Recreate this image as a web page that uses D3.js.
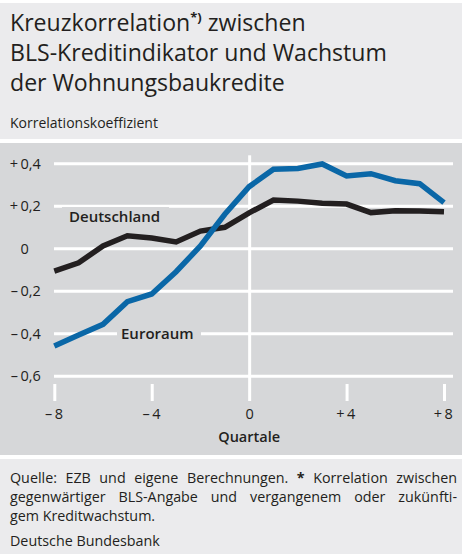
<!DOCTYPE html>
<html>
<head>
<meta charset="utf-8">
<script src="https://cdn.jsdelivr.net/npm/d3@7"></script>
<style>
  body { margin: 0; background: #fff; }
  svg text { font-family: "Open Sans", "Noto Sans", sans-serif; fill: #231f20; }
</style>
</head>
<body>
<svg id="chart" width="462" height="554"></svg>
<script>
// Quartale (Vorlauf/Nachlauf) und Korrelationskoeffizienten
var quarters = [-8, -7, -6, -5, -4, -3, -2, -1, 0, 1, 2, 3, 4, 5, 6, 7, 8];
var deutschland = [-0.107, -0.068, 0.011, 0.059, 0.048, 0.030, 0.081, 0.099, 0.167,
                   0.227, 0.222, 0.212, 0.208, 0.168, 0.177, 0.176, 0.172];
var euroraum = [-0.46, -0.408, -0.358, -0.251, -0.215, -0.110, 0.011, 0.16, 0.29,
                0.372, 0.376, 0.397, 0.340, 0.351, 0.318, 0.304, 0.215];
var yTicks = [0.4, 0.2, 0, -0.2, -0.4, -0.6];
var yTickSigns = ["+", "+", "", "\u2013", "\u2013", "\u2013"];
var yTickNums = ["0,4", "0,2", "0", "0,2", "0,4", "0,6"];
var xTicks = [-8, -4, 0, 4, 8];
var xTickSigns = ["\u2013", "\u2013", "", "+", "+"];
var xTickNums = ["8", "4", "0", "4", "8"];

var svg = d3.select("#chart");

// panels
svg.append("rect").attr("x", 0).attr("y", 3).attr("width", 462).attr("height", 136).attr("fill", "#ebebed");
svg.append("rect").attr("x", 0).attr("y", 143).attr("width", 462).attr("height", 312).attr("fill", "#d6d7d9");
svg.append("rect").attr("x", 0).attr("y", 459).attr("width", 462).attr("height", 95).attr("fill", "#ebebed");

// title
var title = ["Kreuzkorrelation", "BLS-Kreditindikator und Wachstum", "der Wohnungsbaukredite"];
title.forEach(function(t, i) {
  var txt = svg.append("text").attr("x", 10).attr("y", 31 + i * 30)
      .style("font-size", "23.1px").style("font-weight", 500).text(t);
  if (i == 0) {
    txt.append("tspan").attr("dy", -9).style("font-size", "13px").style("font-weight", "bold").text("*)");
    txt.append("tspan").attr("dy", 9).text(" zwischen");
  }
});
svg.append("text").attr("x", 10).attr("y", 128).style("font-size", "14px").text("Korrelationskoeffizient");

var x = d3.scaleLinear().domain([-8, 8]).range([54.3, 444]);
var y = d3.scaleLinear().domain([-0.6, 0.4]).range([375.8, 163.3]);

// gridlines
var grid = svg.append("g").attr("transform", "translate(54,0)")
    .call(d3.axisLeft(y).tickValues(yTicks).tickSize(-399).tickFormat(""));
grid.select(".domain").remove();
grid.selectAll("line").attr("stroke", "#fff").attr("stroke-width", 3);

// y labels
grid.selectAll(".tick").each(function(d, i) {
  var g = d3.select(this);
  g.append("text").attr("x", -36).attr("dy", "0.35em").attr("text-anchor", "end")
    .style("font-size", "14.5px").attr("fill", "#231f20").text(yTickSigns[i]);
  g.append("text").attr("x", -33.5).attr("dy", "0.35em").attr("text-anchor", "start")
    .style("font-size", "14.5px").attr("fill", "#231f20").text(yTickNums[i]);
});

// x axis ticks
var xa = svg.append("g").attr("transform", "translate(0,384)")
    .call(d3.axisBottom(x).tickValues(xTicks).tickSize(17).tickFormat(""));
xa.select(".domain").remove();
xa.selectAll("line").attr("stroke", "#fff").attr("stroke-width", 3);
xa.selectAll(".tick").each(function(d, i) {
  var g = d3.select(this);
  if (d == 0) {
    g.append("text").attr("y", 35).attr("text-anchor", "middle")
      .style("font-size", "14.5px").attr("fill", "#231f20").text("0");
    // vertical zero line
    g.append("line").attr("y1", y(0.4) - 8 - 384).attr("y2", 0)
      .attr("stroke", "#fff").attr("stroke-width", 3);
  } else {
    g.append("text").attr("x", -2.5).attr("y", 35).attr("text-anchor", "end")
      .style("font-size", "14.5px").attr("fill", "#231f20").text(xTickSigns[i]);
    g.append("text").attr("x", 0).attr("y", 35).attr("text-anchor", "start")
      .style("font-size", "14.5px").attr("fill", "#231f20").text(xTickNums[i]);
  }
});
svg.append("text").attr("x", x(0)).attr("y", 442).attr("text-anchor", "middle")
  .style("font-size", "14.5px").style("font-weight", 600).text("Quartale");

// series labels (with panel-coloured background to break the gridline)
function seriesLabel(txt, lx, ly, rx, rw) {
  svg.append("rect").attr("x", rx).attr("y", ly - 15).attr("width", rw).attr("height", 20).attr("fill", "#d6d7d9");
  svg.append("text").attr("x", lx).attr("y", ly).style("font-size", "15px")
    .style("font-weight", 600).text(txt);
}
seriesLabel("Deutschland", 69, 222, 62, 107);
seriesLabel("Euroraum", 121, 339, 117, 84);

// lines
var line = d3.line()
    .x(function(d) { return x(d[0]); })
    .y(function(d) { return y(d[1]); });

svg.append("path").datum(d3.zip(quarters, deutschland))
  .attr("d", line).attr("fill", "none").attr("stroke", "#231f20").attr("stroke-width", 5.5);
svg.append("path").datum(d3.zip(quarters, euroraum))
  .attr("d", line).attr("fill", "none").attr("stroke", "#0a67a7").attr("stroke-width", 5.5);

// footer
function justify(sel, width) {
  var w = sel.node().getComputedTextLength();
  var n = sel.text().split(" ").length - 1;
  if (n > 0) sel.attr("word-spacing", (width - w) / n);
}
var fs = "14.3px";
var f1 = svg.append("text").attr("x", 10).attr("y", 483).style("font-size", fs);
f1.append("tspan").text("Quelle: EZB und eigene Berechnungen. ");
f1.append("tspan").style("font-weight", "bold").text("*");
f1.append("tspan").text(" Korrelation zwischen");
justify(f1, 447);
var f2 = svg.append("text").attr("x", 10).attr("y", 502).style("font-size", fs)
  .text("gegenwärtiger BLS-Angabe und vergangenem oder zukünfti-");
justify(f2, 447);
svg.append("text").attr("x", 10).attr("y", 521).style("font-size", fs).text("gem Kreditwachstum.");
svg.append("text").attr("x", 10).attr("y", 546).style("font-size", fs).text("Deutsche Bundesbank");
</script>
</body>
</html>
